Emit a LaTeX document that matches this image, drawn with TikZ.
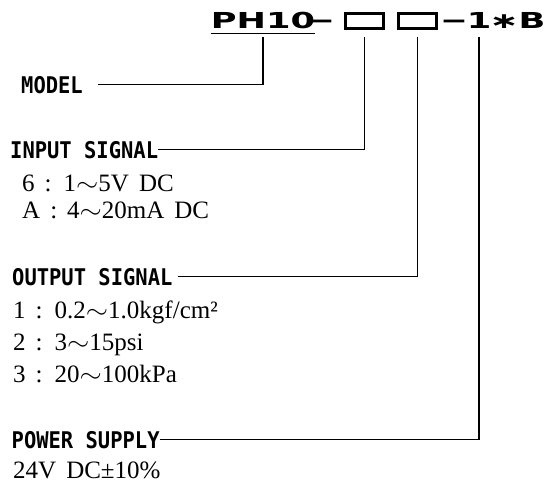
\documentclass[tikz,border=0pt]{standalone}
\usepackage{fontspec}
\usepackage{graphicx}
\usetikzlibrary{positioning}
\newfontfamily\codefont{DejaVu Sans Bold}[FakeStretch=1.6]
\newfontfamily\labelfont{DejaVu Sans Mono Bold}[FakeStretch=0.89]
\newfontfamily\valuefont{Liberation Serif}[WordSpace=1.6]
\newcommand\wavedash{\scalebox{1.15}[1]{$\sim$}}
\newcommand\codedash{\scalebox{1.5}[1]{–}}

\begin{document}
\begin{tikzpicture}[
  x=1pt, y=-1pt,
  code/.style={inner sep=0pt, font=\codefont\fontsize{22}{24}\selectfont},
  slot/.style={draw, line width=2.6pt, minimum width=38pt, minimum height=15.5pt, inner sep=0pt},
  head/.style={inner sep=0pt, anchor=base west, font=\labelfont\fontsize{23}{25}\selectfont},
  item/.style={inner sep=0pt, anchor=base west, font=\valuefont\fontsize{25}{27}\selectfont},
  lead/.style={line width=1.1pt}
]
\useasboundingbox (0,0) rectangle (545,483);

% Model code
\node[code, anchor=base] (pfx) at (263,28) {PH10};
\node[code, anchor=base] (dasha) at (321,27) {\codedash};
\node[slot] (sela) at (364.5,21) {};
\node[slot] (selb) at (417.5,21) {};
\node[code, anchor=base] (dashb) at (454,27) {\codedash};
\node[code, anchor=base] (pwr) at (479,28) {1};
\node[code] (ast) at (504,21.5) {∗};
\node[code, anchor=base] (opt) at (532,28) {B};
\draw[line width=1.6pt] ([yshift=-5pt]pfx.south west) -- ([yshift=-5pt]pfx.south east);
\coordinate (tick) at (0,37);

% Headings
\node[head] (model) at (21,93) {MODEL};
\node[head] (input) at (10,158) {INPUT SIGNAL};
\node[head] (output) at (12,285) {OUTPUT SIGNAL};
\node[head] (power) at (11.5,448) {POWER SUPPLY};

% Options
\node[item] (ina) at (22,191) {6 : 1\wavedash5V DC};
\node[item] (inb) at (22,218) {A : 4\wavedash20mA DC};
\node[item] (outa) at (13,318) {1 : 0.2\wavedash1.0kgf/cm²};
\node[item] (outb) at (13,350) {2 : 3\wavedash15psi};
\node[item] (outc) at (13,382) {3 : 20\wavedash100kPa};
\node[item] (pwra) at (13,478) {24V DC±10\%};

% Leaders
\draw[lead] ([xshift=15pt]model.east) -| (pfx |- tick);
\draw[lead] (input.east) -| (sela |- tick);
\draw[lead] ([xshift=5pt]output.east) -| (selb |- tick);
\draw[lead] (power.east) -| (pwr |- tick);

\end{tikzpicture}
\end{document}
